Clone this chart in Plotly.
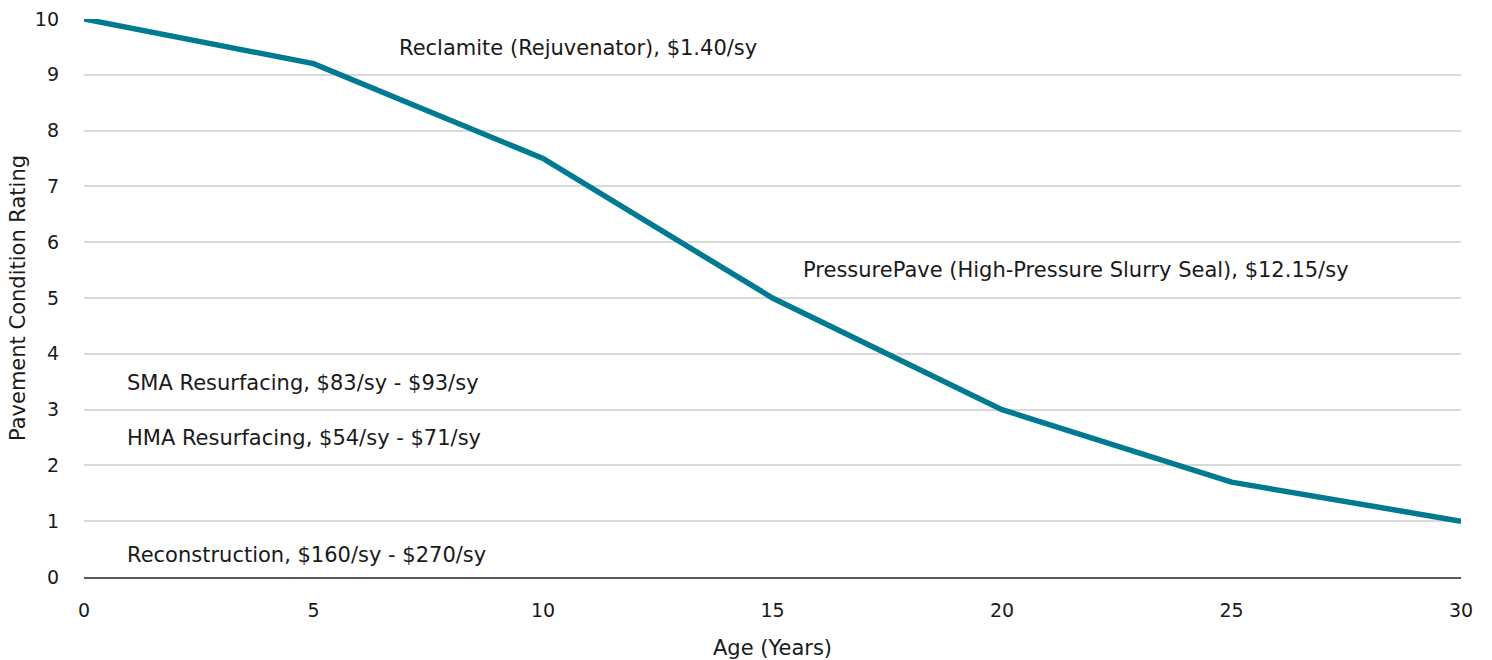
import plotly.graph_objects as go

# Pavement condition deterioration curve
age_years = [0, 5, 10, 15, 20, 25, 30]
condition_rating = [10, 9.2, 7.5, 5, 3, 1.7, 1]

# Treatment labels and where they sit on the chart
treatment_labels = [
    "Reclamite (Rejuvenator), $1.40/sy",
    "PressurePave (High-Pressure Slurry Seal), $12.15/sy",
    "SMA Resurfacing, $83/sy - $93/sy",
    "HMA Resurfacing, $54/sy - $71/sy",
    "Reconstruction, $160/sy - $270/sy",
]
label_x = [6.82, 15.62, 0.89, 0.89, 0.89]
label_y = [9.48, 5.5, 3.48, 2.49, 0.39]

FONT = "DejaVu Sans"
TEXT = "#1a1a1a"

fig = go.Figure()
fig.add_trace(go.Scatter(
    x=age_years, y=condition_rating, mode="lines",
    line=dict(color="#007A91", width=5.5),
    cliponaxis=False, showlegend=False, hoverinfo="x+y",
))

for txt, x, y in zip(treatment_labels, label_x, label_y):
    fig.add_annotation(x=x, y=y, text=txt, showarrow=False,
                       xanchor="left", yanchor="middle",
                       font=dict(family=FONT, size=21, color=TEXT))

fig.update_layout(
    width=1492, height=660,
    margin=dict(l=84, r=31, t=19, b=83, autoexpand=False),
    paper_bgcolor="white", plot_bgcolor="white",
    font=dict(family=FONT, size=19, color=TEXT),
    xaxis=dict(
        range=[0, 30], tickvals=[0, 5, 10, 15, 20, 25, 30],
        showgrid=False, zeroline=False, automargin=False,
        showline=True, linecolor="#595959", linewidth=2,
        ticks="", ticklabelstandoff=15,
        title=dict(text="Age (Years)", standoff=21,
                   font=dict(family=FONT, size=21, color=TEXT)),
    ),
    yaxis=dict(
        range=[0, 10], tickvals=list(range(0, 11)),
        showgrid=True, gridcolor="#d9d9d9", gridwidth=2,
        zeroline=False, showline=False, ticks="", automargin=False,
        ticklabelstandoff=24,
        title=dict(text="Pavement Condition Rating", standoff=3,
                   font=dict(family=FONT, size=21, color=TEXT)),
    ),
)

fig.write_html("out.html")
